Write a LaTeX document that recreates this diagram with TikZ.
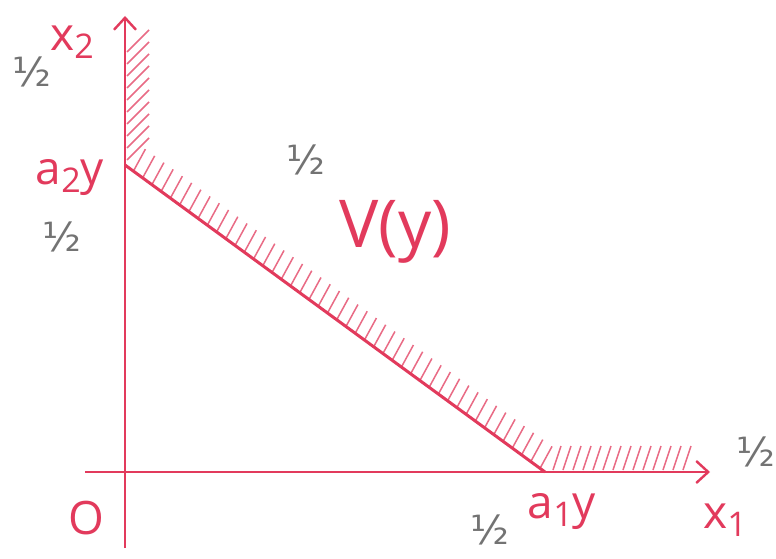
\documentclass[tikz,border=0pt]{standalone}
\usepackage{fontspec}
\setmainfont{Open Sans}
\newfontfamily\gfont{DejaVu Sans}
\usetikzlibrary{arrows.meta,calc}
\definecolor{pen}{RGB}{226,58,92}
\definecolor{pencil}{RGB}{115,115,115}
\newcommand{\sbs}[1]{\raisebox{-0.3ex}{\fontsize{34}{34}\selectfont #1}}
\tikzset{
  axis/.style={pen,line width=2.6pt,-{Straight Barb[length=12pt,width=22pt,line width=2.4pt]}},
  edge/.style={pen,line width=3pt},
  hatch/.style={pen!75,line width=1.5pt},
  lab/.style={pen,font=\fontsize{46}{46}\selectfont,inner sep=0pt},
  half/.style={pencil,font=\gfont\fontsize{40}{40}\selectfont,inner sep=0pt}
}
\begin{document}
\begin{tikzpicture}[x=1pt,y=-1pt]
\useasboundingbox (0,0) rectangle (776,559);
\fill[white] (0,0) rectangle (776,559);
% named points
\coordinate (vbot) at (125,548);
\coordinate (vtop) at (125,16);
\coordinate (hleft) at (85,472);
\coordinate (hright) at (710,472);
\coordinate (A2) at (125,165);
\coordinate (A1) at (545,472);
% hatching
\foreach \y in {52,64,...,160} \draw[hatch] (127,\y) -- (149,\y-22);
\foreach \t in {0.02,0.042,...,0.99}
  \draw[hatch] ($(A2)!\t!(A1)$) -- ++(12,-22);
\foreach \x in {553,563,...,690} \draw[hatch] (\x,470) -- (\x+8,446);
% axes
\draw[axis] (vbot) -- (vtop);
\draw[axis] (hleft) -- (hright);
\draw[edge] (A2) -- (A1);
% labels
\node[lab] (x2) at (72,42) {x\sbs{2}};
\node[lab] (a2y) at (70,178) {a\sbs{2}y};
\node[lab,font=\fontsize{66}{66}\selectfont] (V) at (395,232) {V(y)};
\node[lab] (a1y) at (562,512) {a\sbs{1}y};
\node[lab] (x1) at (725,520) {x\sbs{1}};
\node[lab] (O) at (86,518) {O};
\node[half] (h1) at (32,72) {½};
\node[half] (h2) at (62,237) {½};
\node[half] (h3) at (306,160) {½};
\node[half] (h4) at (756,452) {½};
\node[half] (h5) at (490,530) {½};
\end{tikzpicture}
\end{document}
